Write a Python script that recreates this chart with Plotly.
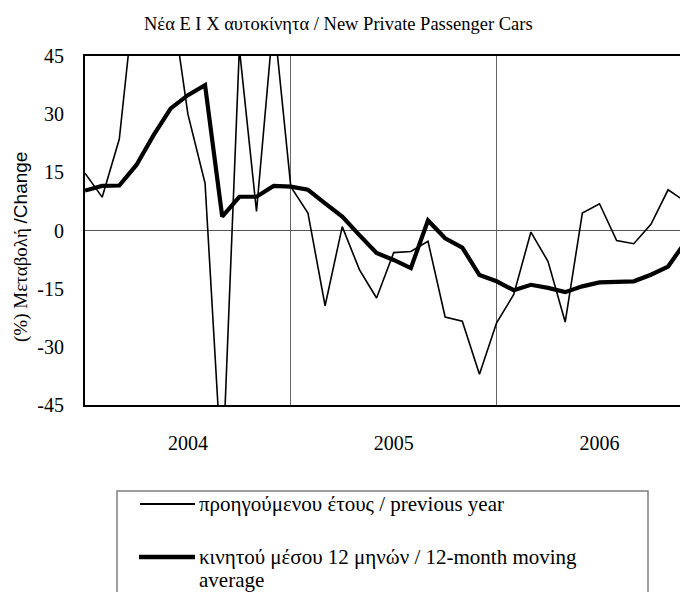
import plotly.graph_objects as go

# ---- data (monthly, Jan 2004 onward) ----
months = ["2004-01","2004-02","2004-03","2004-04","2004-05","2004-06","2004-07","2004-08","2004-09","2004-10","2004-11","2004-12",
          "2005-01","2005-02","2005-03","2005-04","2005-05","2005-06","2005-07","2005-08","2005-09","2005-10","2005-11","2005-12",
          "2006-01","2006-02","2006-03","2006-04","2006-05","2006-06","2006-07","2006-08","2006-09","2006-10","2006-11","2006-12"]
prev_year = [14.8, 8.6, 23.6, 65, 70, 61, 30, 12.2, -64, 47, 4.9, 55,
             11.3, 4.5, -19.4, 1.0, -10.1, -17.4, -5.7, -5.4, -2.8, -22.3, -23.4, -37.1,
             -23.8, -16.5, -0.4, -8.0, -23.6, 4.5, 6.9, -2.6, -3.4, 1.6, 10.5, 7.5]
moving_avg = [10.3, 11.5, 11.6, 16.9, 24.6, 31.5, 34.9, 37.5, 3.6, 8.7, 8.7, 11.5,
              11.3, 10.5, 7.0, 3.6, -1.2, -5.8, -7.6, -9.7, 2.6, -2.0, -4.4, -11.5,
              -13.1, -15.4, -14.0, -14.8, -15.9, -14.4, -13.4, -13.2, -13.1, -11.4, -9.3, -3.0]
year_labels = ["2004", "2005", "2006"]
year_centers = [6, 18, 30]
year_bounds = [12, 24]
y_ticks = [-45, -30, -15, 0, 15, 30, 45]
y_tick_text = ["-45", "-30", "-15", "0", "15", "30", "45"]

x_idx = list(range(len(months)))

W, H = 680, 592
L, T, R, B = 85, 56, 0, 187
PW, PH = W - L - R, H - T - B

def px(x):
    return (x - L) / PW

def py(y):
    return (H - B - y) / PH

SERIF = "Liberation Serif"

fig = go.Figure()
fig.add_trace(go.Scatter(x=x_idx, y=prev_year, mode="lines",
                         line=dict(color="black", width=1.6), showlegend=False,
                         hoverinfo="skip"))
fig.add_trace(go.Scatter(x=x_idx, y=moving_avg, mode="lines",
                         line=dict(color="black", width=4.2), showlegend=False,
                         hoverinfo="skip"))

month_px = 17.15
fig.update_layout(
    width=W, height=H,
    margin=dict(l=L, r=R, t=T, b=B, pad=0),
    paper_bgcolor="white", plot_bgcolor="white",
    showlegend=False,
    xaxis=dict(range=[0, PW / month_px], tickvals=year_centers, ticktext=year_labels,
               ticks="outside", ticklen=19, tickcolor="rgba(0,0,0,0)",
               showgrid=False, zeroline=False,
               showline=True, linecolor="black", linewidth=2, mirror=True,
               tickfont=dict(family=SERIF, size=20, color="black"),
               minor=dict(tickvals=year_bounds, showgrid=True, gridcolor="#666666", gridwidth=1, ticks="")),
    yaxis=dict(range=[-45, 45], tickvals=y_ticks, ticktext=y_tick_text,
               ticks="outside", ticklen=15, tickcolor="rgba(0,0,0,0)",
               showgrid=False, zeroline=True, zerolinecolor="#555555", zerolinewidth=1,
               showline=True, linecolor="black", linewidth=2, mirror=False,
               tickfont=dict(family=SERIF, size=20, color="black")),
)

annotations = []
# title
annotations.append(dict(x=px(338), y=py(24), xref="paper", yref="paper",
                        text="Νέα Ε Ι Χ αυτοκίνητα / New Private Passenger Cars",
                        showarrow=False, xanchor="center", yanchor="middle",
                        font=dict(family=SERIF, size=18.5, color="black")))
# y axis title (mixed fonts)
annotations.append(dict(x=px(21), y=py(247), xref="paper", yref="paper",
                        text="(%) Μεταβολή <span style='font-family:Liberation Sans'>/Change</span>",
                        textangle=-90, showarrow=False, xanchor="center", yanchor="middle",
                        font=dict(family=SERIF, size=19, color="black")))
# legend texts
annotations.append(dict(x=px(197), y=py(504), xref="paper", yref="paper",
                        text="προηγούμενου έτους / previous year",
                        showarrow=False, xanchor="left", yanchor="middle",
                        font=dict(family=SERIF, size=21, color="black")))
annotations.append(dict(x=px(197), y=py(557), xref="paper", yref="paper",
                        text="κινητού μέσου 12 μηνών / 12-month moving",
                        showarrow=False, xanchor="left", yanchor="middle",
                        font=dict(family=SERIF, size=21, color="black")))
annotations.append(dict(x=px(197), y=py(580), xref="paper", yref="paper",
                        text="average",
                        showarrow=False, xanchor="left", yanchor="middle",
                        font=dict(family=SERIF, size=21, color="black")))
fig.update_layout(annotations=annotations)

shapes = []
# legend box
shapes.append(dict(type="rect", xref="paper", yref="paper",
                   x0=px(117), x1=px(648), y0=py(491), y1=py(610),
                   line=dict(color="#7f7f7f", width=1.5), fillcolor="rgba(0,0,0,0)"))
# legend line samples
shapes.append(dict(type="line", xref="paper", yref="paper",
                   x0=px(140), x1=px(195), y0=py(504), y1=py(504),
                   line=dict(color="black", width=2)))
shapes.append(dict(type="line", xref="paper", yref="paper",
                   x0=px(139), x1=px(195), y0=py(557), y1=py(557),
                   line=dict(color="black", width=4.5)))
fig.update_layout(shapes=shapes)

fig.write_html("out.html", config={"displayModeBar": False},
               post_script="document.body.style.margin='0';document.body.style.overflow='hidden';")
